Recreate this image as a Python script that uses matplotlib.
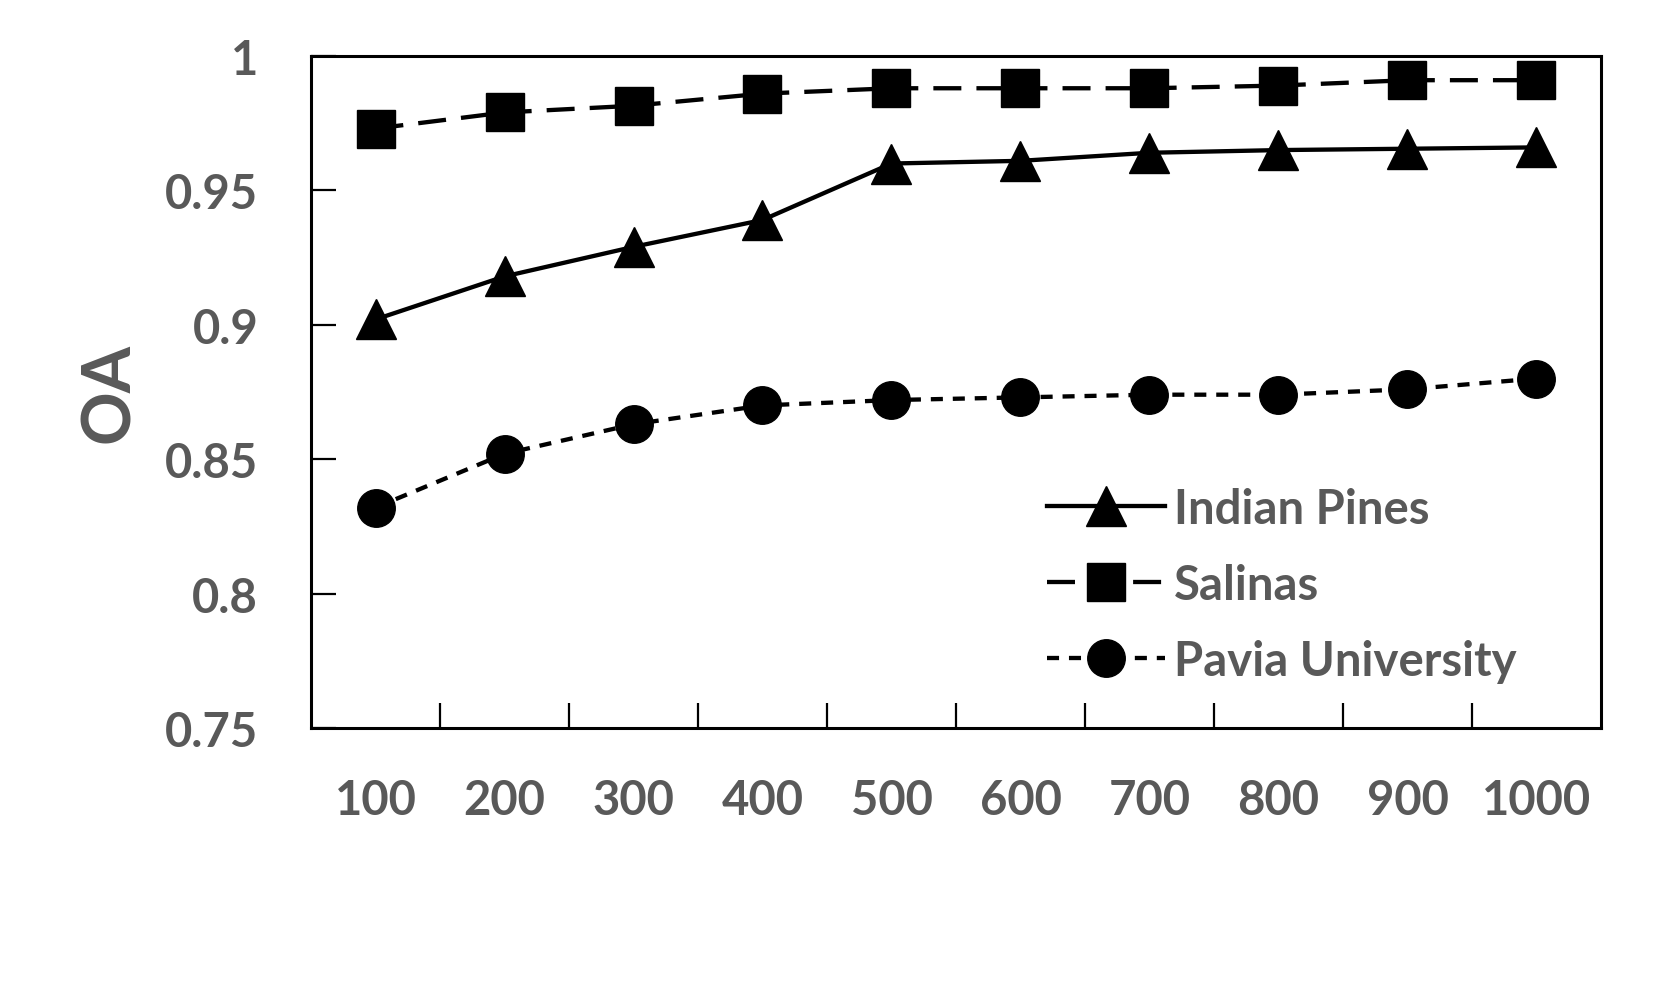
import numpy as np
import matplotlib.pyplot as plt

plt.rcParams['font.family'] = ['Lato', 'DejaVu Sans']

samples = ['100', '200', '300', '400', '500', '600', '700', '800', '900', '1000']
indian_pines = [0.902, 0.918, 0.929, 0.939, 0.960, 0.961, 0.964, 0.965, 0.9655, 0.966]
salinas = [0.973, 0.979, 0.9815, 0.986, 0.988, 0.988, 0.988, 0.989, 0.991, 0.991]
pavia = [0.832, 0.852, 0.863, 0.870, 0.872, 0.873, 0.874, 0.874, 0.876, 0.880]
yticks = [0.75, 0.8, 0.85, 0.9, 0.95, 1.0]
ytick_labels = ['0.75', '0.8', '0.85', '0.9', '0.95', '1']

grey = '#595959'
fig = plt.figure(figsize=(16.53, 9.87), dpi=100)
ax = fig.add_axes([311/1653, 1-729/987, 1290/1653, 672/987])

x = np.arange(len(samples))
ax.plot(x, indian_pines, color='black', lw=3.1, marker='^', ms=29,
        label='Indian Pines')
ax.plot(x, salinas, color='black', lw=3.1, marker='s', ms=27,
        dashes=(6.5, 3.5), label='Salinas')
ax.plot(x, pavia, color='black', lw=3.1, marker='o', ms=27,
        dashes=(2.8, 2.3), label='Pavia University')

ax.set_xlim(-0.5, len(samples) - 0.5)
ax.set_ylim(0.75, 1.0)
ax.set_xticks(x)
ax.set_xticklabels(samples)
ax.set_xticks(np.arange(0.5, len(samples) - 1, 1.0), minor=True)
ax.tick_params(axis='x', which='major', length=0, pad=36,
               labelsize=34, labelcolor=grey)
ax.tick_params(axis='x', which='minor', direction='in', length=18, width=1.6)
ax.set_yticks(yticks)
ax.set_yticklabels(ytick_labels)
ax.tick_params(axis='y', direction='in', length=18, width=1.6, pad=38,
               labelsize=34, labelcolor=grey)
for lab in ax.get_xticklabels() + ax.get_yticklabels():
    lab.set_fontweight('bold')
for s in ax.spines.values():
    s.set_linewidth(2.2)

ax.set_ylabel('OA', fontsize=48, fontweight='bold', color=grey)
ax.yaxis.set_label_coords(-0.132, 0.5)

leg = ax.legend(loc='upper left', bbox_to_anchor=(1004/1653, 1-445/987),
                bbox_transform=fig.transFigure, frameon=False, fontsize=34,
                handlelength=2.5, handletextpad=0.2, labelspacing=0.68)
for t in leg.get_texts():
    t.set_color(grey)
    t.set_fontweight('bold')

fig.savefig('out.png', dpi=100)
